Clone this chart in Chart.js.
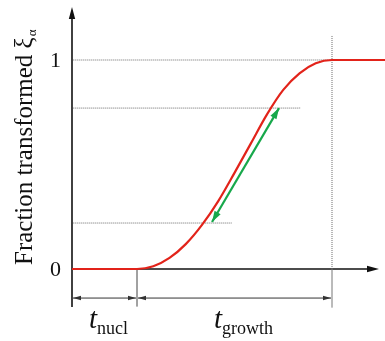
<!DOCTYPE html>
<html>
<head>
<meta charset="utf-8">
<script src="https://cdn.jsdelivr.net/npm/chart.js@4.4.1/dist/chart.umd.min.js"></script>
<style>
  html, body { margin: 0; padding: 0; background: #fff; }
  #wrap { width: 385px; height: 341px; position: relative; }
</style>
</head>
<body>
<div id="wrap"><canvas id="c" width="385" height="341"></canvas></div>
<script>
// ---- data (time in units of the nucleation period, fraction transformed 0..1) ----
const curveX = [0, 1.0, 1.25, 1.5, 1.75, 2.0, 2.25, 2.5, 2.75, 3.0, 3.25, 3.5, 3.75, 4.0, 4.82];
const curveY = [0, 0, 0.013, 0.053, 0.119, 0.211, 0.325, 0.46, 0.60, 0.74, 0.857, 0.936, 0.984, 1.0, 1.0];
const guideLevels = [1.0, 0.77, 0.22];     // dotted horizontal guides (fraction)
const guideEnds = [4.82, 3.51, 2.46];      // where each guide stops (time)
const slopeFrom = [2.154, 0.225];          // green double arrow (time, fraction)
const slopeTo = [3.185, 0.77];
const tNucl = 1.0;                          // end of nucleation period
const tGrowthEnd = 4.0;                     // end of growth
const yTickValues = [0, 1];
const yTickLabels = ['0', '1'];
const yTitle = 'Fraction transformed ξ';
const yTitleSup = 'α';
const intervalLabels = [
  { main: 't', sub: 'nucl', from: 0, to: tNucl },
  { main: 't', sub: 'growth', from: tNucl, to: tGrowthEnd }
];

const RED = '#e2231a', GREEN = '#17a84b', DOT = '#6a6a6a';
const SERIF = '"Liberation Serif", "DejaVu Serif", serif';

const datasets = [];
datasets.push({
  data: curveX.map((x, i) => ({ x, y: curveY[i] })),
  borderColor: RED, borderWidth: 2.2, pointRadius: 0,
  cubicInterpolationMode: 'monotone', order: 0
});
datasets.push({
  data: [{ x: slopeFrom[0], y: slopeFrom[1] }, { x: slopeTo[0], y: slopeTo[1] }],
  borderColor: GREEN, borderWidth: 2.2, pointRadius: 0, order: 1
});
guideLevels.forEach((lv, i) => {
  datasets.push({
    data: [{ x: 0.02, y: lv }, { x: guideEnds[i], y: lv }],
    borderColor: DOT, borderWidth: 1, borderDash: [1, 1], pointRadius: 0, order: 2
  });
});
datasets.push({
  data: [{ x: tGrowthEnd, y: 1.115 }, { x: tGrowthEnd, y: 0 }],
  borderColor: DOT, borderWidth: 1, borderDash: [1, 1], pointRadius: 0, order: 2
});

function arrowHead(ctx, tipX, tipY, dx, dy, len, half, color) {
  const L = Math.hypot(dx, dy); const ux = dx / L, uy = dy / L;
  const bx = tipX - ux * len, by = tipY - uy * len;
  ctx.beginPath();
  ctx.moveTo(tipX, tipY);
  ctx.lineTo(bx - uy * half, by + ux * half);
  ctx.lineTo(bx + uy * half, by - ux * half);
  ctx.closePath();
  ctx.fillStyle = color; ctx.fill();
}

const decor = {
  id: 'decor',
  beforeDatasetsDraw(chart) {
    const ctx = chart.ctx, xs = chart.scales.x, ys = chart.scales.y;
    const px = v => xs.getPixelForValue(v), py = v => ys.getPixelForValue(v);
    const x0 = px(0), y0 = py(0);
    ctx.save();
    // axes
    ctx.strokeStyle = '#111'; ctx.lineWidth = 1.6;
    ctx.beginPath(); ctx.moveTo(x0, py(-0.182)); ctx.lineTo(x0, 14); ctx.stroke();
    arrowHead(ctx, x0, 7, 0, -1, 12, 3.2, '#111');
    ctx.beginPath(); ctx.moveTo(x0, y0); ctx.lineTo(372, y0); ctx.stroke();
    arrowHead(ctx, 379, y0, 1, 0, 12, 3.2, '#111');
    // marks below axis
    ctx.lineWidth = 1;
    ctx.strokeStyle = '#444';
    ctx.beginPath(); ctx.moveTo(px(tNucl), y0); ctx.lineTo(px(tNucl), py(-0.18)); ctx.stroke();
    ctx.strokeStyle = '#777';
    ctx.beginPath(); ctx.moveTo(px(tGrowthEnd), y0); ctx.lineTo(px(tGrowthEnd), py(-0.185)); ctx.stroke();
    // interval dimension arrows
    const yd = py(-0.139);
    ctx.strokeStyle = '#333'; ctx.lineWidth = 1;
    intervalLabels.forEach(it => {
      const a = px(it.from) + 1, b = px(it.to) - 1;
      ctx.beginPath(); ctx.moveTo(a, yd); ctx.lineTo(b, yd); ctx.stroke();
      arrowHead(ctx, a, yd, -1, 0, 8, 2.2, '#333');
      arrowHead(ctx, b, yd, 1, 0, 8, 2.2, '#333');
    });
    // interval labels
    ctx.fillStyle = '#111'; ctx.textBaseline = 'alphabetic'; ctx.textAlign = 'left';
    const offs = [4, 9];
    intervalLabels.forEach((it, i) => {
      ctx.font = 'italic 29px ' + SERIF;
      const wm = ctx.measureText(it.main).width;
      ctx.font = '18px ' + SERIF;
      const ws = ctx.measureText(it.sub).width;
      const cx = (px(it.from) + px(it.to)) / 2 + offs[i];
      const sx = cx - (wm + ws) / 2;
      ctx.font = 'italic 29px ' + SERIF;
      ctx.fillText(it.main, sx, 328);
      ctx.font = '18px ' + SERIF;
      ctx.fillText(it.sub, sx + wm, 334);
    });
    // y tick labels
    ctx.font = '22px ' + SERIF; ctx.textAlign = 'right'; ctx.textBaseline = 'middle';
    yTickValues.forEach((v, i) => ctx.fillText(yTickLabels[i], 61, py(v) + 1));
    // y title
    ctx.save();
    ctx.translate(32, 265); ctx.rotate(-Math.PI / 2);
    ctx.textAlign = 'left'; ctx.textBaseline = 'alphabetic';
    ctx.font = '25px ' + SERIF;
    ctx.fillText(yTitle, 0, 0);
    const w = ctx.measureText(yTitle).width;
    ctx.font = '13px ' + SERIF;
    ctx.fillText(yTitleSup, w + 1, 4);
    ctx.restore();
    ctx.restore();
  },
  afterDatasetsDraw(chart) {
    const ctx = chart.ctx, xs = chart.scales.x, ys = chart.scales.y;
    const ax = xs.getPixelForValue(slopeFrom[0]), ay = ys.getPixelForValue(slopeFrom[1]);
    const bx = xs.getPixelForValue(slopeTo[0]), by = ys.getPixelForValue(slopeTo[1]);
    arrowHead(ctx, ax, ay, ax - bx, ay - by, 11, 3.5, GREEN);
    arrowHead(ctx, bx, by, bx - ax, by - ay, 11, 3.5, GREEN);
  }
};

new Chart(document.getElementById('c'), {
  type: 'line',
  data: { datasets },
  options: {
    responsive: false, animation: false,
    layout: { padding: { left: 72, right: 0, top: 0, bottom: 0 } },
    plugins: { legend: { display: false }, tooltip: { enabled: false } },
    scales: {
      x: { type: 'linear', min: 0, max: 313 / 65, display: false },
      y: { type: 'linear', min: -72 / 209, max: 269 / 209, display: false }
    }
  },
  plugins: [decor]
});
</script>
</body>
</html>
